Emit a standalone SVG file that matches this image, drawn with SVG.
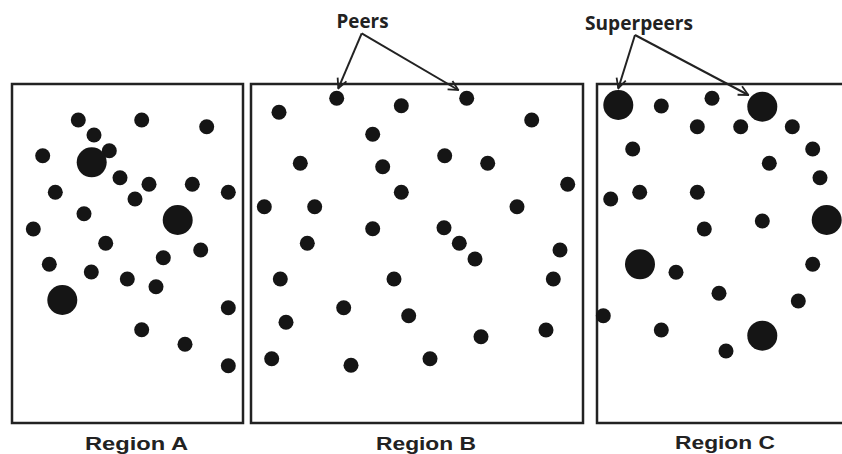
<svg xmlns="http://www.w3.org/2000/svg" width="842" height="454" viewBox="0 0 842 454">
<defs>
<style>
.box{fill:none;stroke:#222;stroke-width:2.5}
.p{fill:#151515}
.lbl{font-family:"Open Sans","Liberation Sans",sans-serif;font-weight:700;font-size:19px;fill:#222}
.reg{font-family:"Liberation Sans",Arial,sans-serif;font-weight:700;font-size:19px;fill:#222}
.arr{fill:none;stroke:#222;stroke-width:2;marker-end:url(#ah)}
</style>
<marker id="ah" viewBox="0 0 10 10" refX="9" refY="5" markerWidth="6" markerHeight="6" orient="auto" markerUnits="strokeWidth">
<path d="M1,1 L9,5 L1,9" fill="none" stroke="#222" stroke-width="1.5"/>
</marker>
</defs>
<rect width="842" height="454" fill="#fff"/>

<g id="regionA">
<rect class="box" x="12" y="84" width="231" height="339"/>
<circle class="p" cx="78.3" cy="120" r="7.5"/>
<circle class="p" cx="141.7" cy="120" r="7.5"/>
<circle class="p" cx="206.7" cy="126.7" r="7.5"/>
<circle class="p" cx="94" cy="135" r="7.5"/>
<circle class="p" cx="42.7" cy="155.7" r="7.5"/>
<circle class="p" cx="109.3" cy="150.7" r="7.5"/>
<circle class="p" cx="91.7" cy="162.3" r="15"/>
<circle class="p" cx="120" cy="177.7" r="7.5"/>
<circle class="p" cx="149" cy="184.3" r="7.5"/>
<circle class="p" cx="192.3" cy="184.3" r="7.5"/>
<circle class="p" cx="228.3" cy="192.3" r="7.5"/>
<circle class="p" cx="55.3" cy="192.3" r="7.5"/>
<circle class="p" cx="135" cy="199" r="7.5"/>
<circle class="p" cx="84" cy="213.7" r="7.5"/>
<circle class="p" cx="177.7" cy="220" r="15"/>
<circle class="p" cx="33.3" cy="229" r="7.5"/>
<circle class="p" cx="105.7" cy="243.3" r="7.5"/>
<circle class="p" cx="200.7" cy="250" r="7.5"/>
<circle class="p" cx="163.3" cy="257.7" r="7.5"/>
<circle class="p" cx="49.3" cy="264.3" r="7.5"/>
<circle class="p" cx="91.3" cy="272" r="7.5"/>
<circle class="p" cx="127.3" cy="279" r="7.5"/>
<circle class="p" cx="156" cy="286.7" r="7.5"/>
<circle class="p" cx="62.3" cy="300" r="15"/>
<circle class="p" cx="228.3" cy="307.7" r="7.5"/>
<circle class="p" cx="141.7" cy="329.7" r="7.5"/>
<circle class="p" cx="185" cy="344.3" r="7.5"/>
<circle class="p" cx="228.3" cy="365.7" r="7.5"/>
<text class="reg" x="85" y="450" textLength="103" lengthAdjust="spacingAndGlyphs">Region  A</text>
</g>

<g id="regionB">
<rect class="box" x="251" y="84" width="332" height="339"/>
<circle class="p" cx="336.7" cy="98.3" r="7.5"/>
<circle class="p" cx="466.7" cy="98.3" r="7.5"/>
<circle class="p" cx="279" cy="112.3" r="7.5"/>
<circle class="p" cx="401.3" cy="105.7" r="7.5"/>
<circle class="p" cx="531.7" cy="120" r="7.5"/>
<circle class="p" cx="372.7" cy="134.3" r="7.5"/>
<circle class="p" cx="300.3" cy="163.3" r="7.5"/>
<circle class="p" cx="382.7" cy="166.7" r="7.5"/>
<circle class="p" cx="444.7" cy="155.7" r="7.5"/>
<circle class="p" cx="487.7" cy="163.3" r="7.5"/>
<circle class="p" cx="567.7" cy="184.3" r="7.5"/>
<circle class="p" cx="401.3" cy="192.3" r="7.5"/>
<circle class="p" cx="264.3" cy="206.7" r="7.5"/>
<circle class="p" cx="314.7" cy="206.7" r="7.5"/>
<circle class="p" cx="517" cy="206.7" r="7.5"/>
<circle class="p" cx="372.7" cy="228.7" r="7.5"/>
<circle class="p" cx="444" cy="227.7" r="7.5"/>
<circle class="p" cx="307.3" cy="243.3" r="7.5"/>
<circle class="p" cx="459.3" cy="243.3" r="7.5"/>
<circle class="p" cx="475" cy="259" r="7.5"/>
<circle class="p" cx="560" cy="250" r="7.5"/>
<circle class="p" cx="280.3" cy="279" r="7.5"/>
<circle class="p" cx="394" cy="279" r="7.5"/>
<circle class="p" cx="553.3" cy="279" r="7.5"/>
<circle class="p" cx="343.7" cy="307.7" r="7.5"/>
<circle class="p" cx="286" cy="322.3" r="7.5"/>
<circle class="p" cx="408.7" cy="315.7" r="7.5"/>
<circle class="p" cx="546" cy="330" r="7.5"/>
<circle class="p" cx="481" cy="336.7" r="7.5"/>
<circle class="p" cx="271.7" cy="358.7" r="7.5"/>
<circle class="p" cx="430" cy="358.7" r="7.5"/>
<circle class="p" cx="351" cy="365.3" r="7.5"/>
<text class="reg" x="376" y="450" textLength="100" lengthAdjust="spacingAndGlyphs">Region B</text>
</g>

<g id="regionC">
<rect class="box" x="597" y="84" width="250" height="339"/>
<circle class="p" cx="618.3" cy="105" r="15"/>
<circle class="p" cx="661.3" cy="106" r="7.5"/>
<circle class="p" cx="712" cy="98.3" r="7.5"/>
<circle class="p" cx="762.3" cy="106.7" r="15"/>
<circle class="p" cx="697.3" cy="126.7" r="7.5"/>
<circle class="p" cx="740.7" cy="126.7" r="7.5"/>
<circle class="p" cx="792.3" cy="126.7" r="7.5"/>
<circle class="p" cx="632.7" cy="149" r="7.5"/>
<circle class="p" cx="812.7" cy="149" r="7.5"/>
<circle class="p" cx="769.3" cy="163.3" r="7.5"/>
<circle class="p" cx="820" cy="177.7" r="7.5"/>
<circle class="p" cx="610.7" cy="199" r="7.5"/>
<circle class="p" cx="639.7" cy="192.3" r="7.5"/>
<circle class="p" cx="697.3" cy="192.3" r="7.5"/>
<circle class="p" cx="826.7" cy="220" r="15"/>
<circle class="p" cx="762.3" cy="221" r="7.5"/>
<circle class="p" cx="704.3" cy="229" r="7.5"/>
<circle class="p" cx="640" cy="264.3" r="15"/>
<circle class="p" cx="676" cy="272.3" r="7.5"/>
<circle class="p" cx="812.7" cy="264.3" r="7.5"/>
<circle class="p" cx="719" cy="293.3" r="7.5"/>
<circle class="p" cx="798.3" cy="301" r="7.5"/>
<circle class="p" cx="603.3" cy="315.7" r="7.5"/>
<circle class="p" cx="661.3" cy="330" r="7.5"/>
<circle class="p" cx="762.3" cy="335.7" r="15"/>
<circle class="p" cx="726" cy="351" r="7.5"/>
<text class="reg" x="675" y="449" textLength="100" lengthAdjust="spacingAndGlyphs">Region C</text>
</g>

<g id="label-peers">
<text class="lbl" x="336.5" y="27.5" textLength="52" lengthAdjust="spacingAndGlyphs">Peers</text>
</g>
<g id="label-superpeers">
<text class="lbl" x="585" y="30" textLength="108" lengthAdjust="spacingAndGlyphs">Superpeers</text>
</g>

<g id="connectors">
<polyline class="arr" points="361.7,33.3 338.3,88.3"/>
<polyline class="arr" points="361.7,33.3 458.3,90"/>
<polyline class="arr" points="635,35 618.3,88.3"/>
<polyline class="arr" points="635,35 748.3,95"/>
</g>
</svg>
